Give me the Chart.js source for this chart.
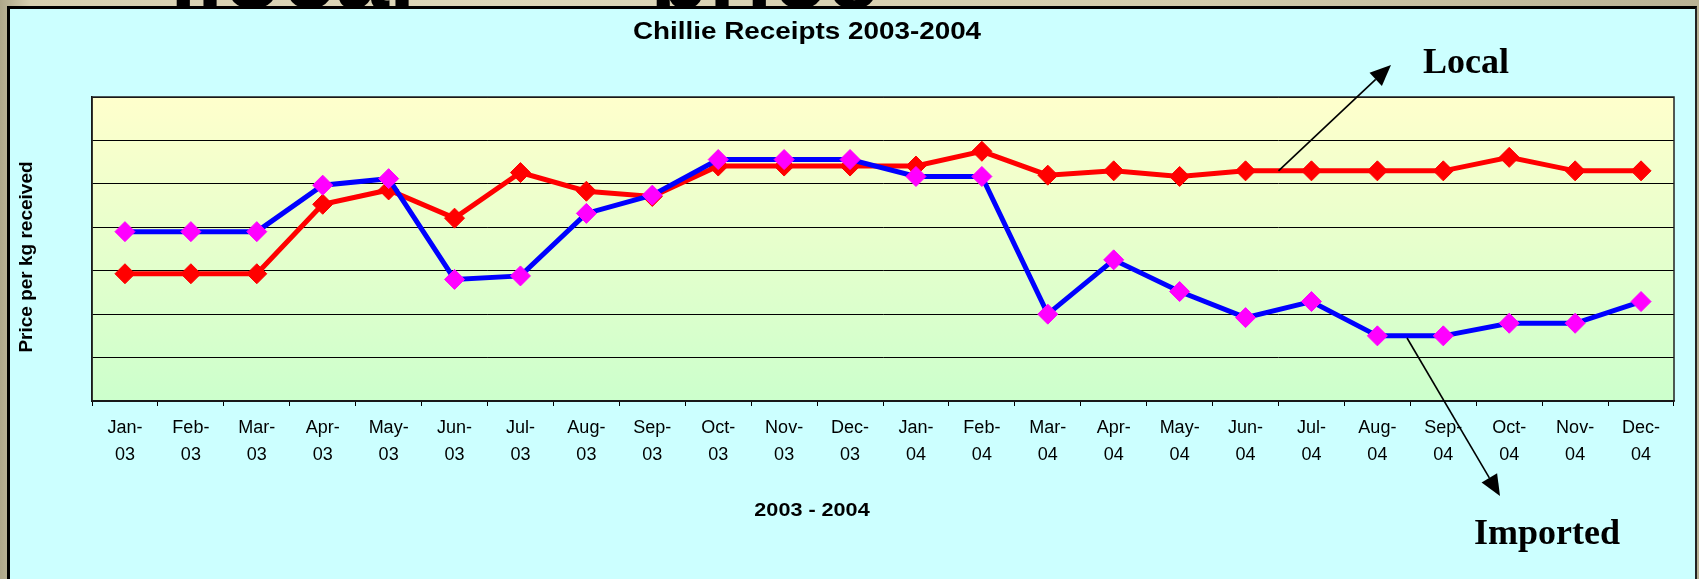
<!DOCTYPE html>
<html>
<head>
<meta charset="utf-8">
<title>Chillie Receipts 2003-2004</title>
<script src="https://cdn.jsdelivr.net/npm/chart.js@4.4.1/dist/chart.umd.min.js"></script>
<style>
  html, body { margin: 0; padding: 0; }
  body {
    width: 1699px; height: 579px; overflow: hidden; position: relative;
    background: linear-gradient(90deg, #aea78a 0px, #d6cfb0 30px, #ddd7ba 500px, #d2cbab 1200px, #b9b295 1699px);
  }
  .slideText {
    position: absolute; top: -80px; color: #000; white-space: nowrap;
    font: bold 96px "Liberation Sans", Arial, sans-serif;
  }
  #frame {
    position: absolute; left: 7px; top: 6px; right: 2px; bottom: -5px;
    background: #ccffff;
    border-left: 3px solid #000; border-top: 3px solid #000; border-right: 2px solid #222;
  }
  #wrap { position: absolute; left: 0; top: 0; width: 1699px; height: 579px; }
</style>
</head>
<body>
<div class="slideText" style="left:170px">llocal”</div>
<div class="slideText" style="left:650px">price</div>
<div id="frame"></div>
<div id="wrap"><canvas id="chillieChart"></canvas></div>
<script>
// month labels, two lines each (e.g. "Jan-" / "03")
const months = ['Jan', 'Feb', 'Mar', 'Apr', 'May', 'Jun', 'Jul', 'Aug', 'Sep', 'Oct', 'Nov', 'Dec'];
const years = ['03', '04'];

// price per kg received (no scale printed on the original, grid = 1 unit)
const localPrice = [2.93, 2.93, 2.93, 4.53, 4.86, 4.21, 5.26, 4.83, 4.71, 5.41, 5.41, 5.41,
                    5.41, 5.75, 5.20, 5.30, 5.17, 5.30, 5.30, 5.30, 5.30, 5.61, 5.30, 5.30];
const importedPrice = [3.90, 3.90, 3.90, 4.97, 5.12, 2.80, 2.88, 4.32, 4.74, 5.56, 5.56, 5.56,
                       5.17, 5.17, 2.00, 3.25, 2.52, 1.92, 2.29, 1.50, 1.50, 1.79, 1.79, 2.29];

const labels = [];
years.forEach(function(y) {
    months.forEach(function(m) { labels.push([m + '-', y]); });
});

const sans = '"Liberation Sans", Arial, sans-serif';
const serif = '"Liberation Serif", "Times New Roman", serif';

// stretched text, like the squashed Excel picture on the slide
function wideText(ctx, text, x, y, font, sx, rot) {
    ctx.save();
    ctx.font = font;
    ctx.fillStyle = '#000';
    ctx.textAlign = 'center';
    ctx.textBaseline = 'middle';
    ctx.translate(x, y);
    if (rot) ctx.rotate(rot);
    ctx.scale(sx, 1);
    ctx.fillText(text, 0, 0);
    ctx.restore();
}

function arrow(ctx, x1, y1, x2, y2) {
    const ang = Math.atan2(y2 - y1, x2 - x1);
    const len = 21, half = 9;
    ctx.save();
    ctx.strokeStyle = '#000';
    ctx.fillStyle = '#000';
    ctx.lineWidth = 1.6;
    ctx.beginPath();
    ctx.moveTo(x1, y1);
    ctx.lineTo(x2 - Math.cos(ang) * len, y2 - Math.sin(ang) * len);
    ctx.stroke();
    ctx.beginPath();
    ctx.moveTo(x2, y2);
    ctx.lineTo(x2 - Math.cos(ang) * len - Math.sin(ang) * half, y2 - Math.sin(ang) * len + Math.cos(ang) * half);
    ctx.lineTo(x2 - Math.cos(ang) * len + Math.sin(ang) * half, y2 - Math.sin(ang) * len - Math.cos(ang) * half);
    ctx.closePath();
    ctx.fill();
    ctx.restore();
}

const slideDecor = {
    id: 'slideDecor',
    beforeDraw(chart) {
        const ctx = chart.ctx, a = chart.chartArea;
        const g = ctx.createLinearGradient(0, a.top, 0, a.bottom);
        g.addColorStop(0, '#ffffcc');
        g.addColorStop(1, '#ccffcc');
        ctx.save();
        ctx.fillStyle = g;
        ctx.fillRect(a.left, a.top, a.right - a.left, a.bottom - a.top);
        ctx.restore();
    },
    beforeDatasetsDraw(chart) {
        const ctx = chart.ctx, a = chart.chartArea;
        ctx.save();
        ctx.strokeStyle = '#222';
        ctx.lineWidth = 1.5;
        ctx.strokeRect(a.left, a.top, a.right - a.left, a.bottom - a.top);
        ctx.restore();
    },
    afterDraw(chart) {
        const ctx = chart.ctx;
        const x = chart.scales.x, y = chart.scales.y;

        wideText(ctx, 'Chillie Receipts 2003-2004', 807, 32, 'bold 24px ' + sans, 1.16);
        wideText(ctx, '2003 - 2004', 812, 511, 'bold 18px ' + sans, 1.2);
        wideText(ctx, 'Price per kg received', 27, 257, 'bold 19px ' + sans, 1, -Math.PI / 2);

        // call-outs pointing at the two lines
        arrow(ctx, x.getPixelForValue(17.5), y.getPixelForValue(5.3), 1391, 65);
        arrow(ctx, x.getPixelForValue(19.45), y.getPixelForValue(1.45), 1500, 496);

        ctx.save();
        ctx.fillStyle = '#000';
        ctx.font = 'bold 36px ' + serif;
        ctx.textAlign = 'left';
        ctx.fillText('Local', 1423, 73);
        ctx.fillText('Imported', 1474, 544);
        ctx.restore();
    }
};

const ctx = document.getElementById('chillieChart').getContext('2d');
new Chart(ctx, {
    type: 'line',
    data: {
        labels: labels,
        datasets: [{
            label: 'Local',
            data: localPrice,
            borderColor: '#ff0000',
            backgroundColor: '#ff0000',
            borderWidth: 5,
            pointStyle: 'rectRot',
            pointRadius: 10,
            pointBorderWidth: 1,
            pointBackgroundColor: '#ff0000',
            pointBorderColor: '#ff0000',
            tension: 0,
            order: 1
        }, {
            label: 'Imported',
            data: importedPrice,
            borderColor: '#0000ff',
            backgroundColor: '#ff00ff',
            borderWidth: 5,
            pointStyle: 'rectRot',
            pointRadius: 10,
            pointBorderWidth: 1,
            pointBackgroundColor: '#ff00ff',
            pointBorderColor: '#ff00ff',
            tension: 0,
            order: 0
        }]
    },
    options: {
        responsive: true,
        maintainAspectRatio: false,
        animation: false,
        layout: {
            padding: { left: 16, top: 97, right: 25, bottom: 0 }
        },
        plugins: {
            legend: { display: false },
            title: { display: false },
            tooltip: { enabled: false }
        },
        scales: {
            x: {
                offset: true,
                grid: {
                    offset: true,
                    drawOnChartArea: false,
                    drawTicks: true,
                    tickLength: 5,
                    color: '#000'
                },
                border: { display: true, color: '#000', width: 1.5 },
                ticks: {
                    color: '#000',
                    autoSkip: false,
                    maxRotation: 0,
                    padding: 9,
                    font: { family: sans, size: 18, lineHeight: 1.5 }
                },
                afterFit: function(scale) { scale.height = 178; }
            },
            y: {
                min: 0,
                max: 7,
                ticks: { display: false, stepSize: 1 },
                grid: { color: '#000', drawTicks: false, tickLength: 0 },
                border: { display: true, color: '#000', width: 1.5 },
                afterFit: function(scale) { scale.width = 76; }
            }
        }
    },
    plugins: [slideDecor]
});
</script>
</body>
</html>
